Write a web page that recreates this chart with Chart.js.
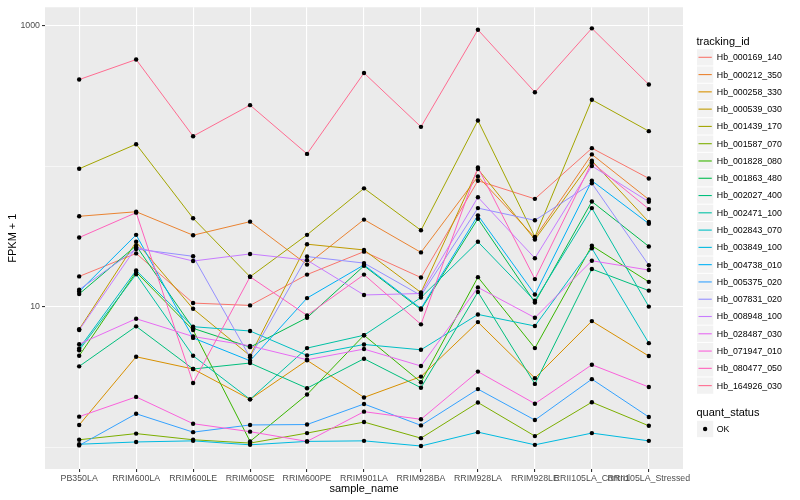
<!DOCTYPE html>
<html>
<head>
<meta charset="utf-8">
<script src="https://cdn.jsdelivr.net/npm/chart.js@4.4.0/dist/chart.umd.min.js"></script>
<style>
  html, body { margin: 0; padding: 0; background: #fff; }
</style>
</head>
<body>
<canvas id="chart" width="800" height="500"></canvas>
<script>
const samples = ['PB350LA', 'RRIM600LA', 'RRIM600LE', 'RRIM600SE', 'RRIM600PE', 'RRIM901LA',
    'RRIM928BA', 'RRIM928LA', 'RRIM928LE', 'RRII105LA_Control', 'RRII105LA_Stressed'];

const trackingIds = ['Hb_000169_140', 'Hb_000212_350', 'Hb_000258_330', 'Hb_000539_030', 'Hb_001439_170',
    'Hb_001587_070', 'Hb_001828_080', 'Hb_001863_480', 'Hb_002027_400', 'Hb_002471_100',
    'Hb_002843_070', 'Hb_003849_100', 'Hb_004738_010', 'Hb_005375_020', 'Hb_007831_020',
    'Hb_008948_100', 'Hb_028487_030', 'Hb_071947_010', 'Hb_080477_050', 'Hb_164926_030'];

const lineColors = ['#F8766D', '#EA8331', '#D89000', '#C09B00', '#A3A500', '#7CAE00', '#39B600', '#00BB4E',
    '#00BF7D', '#00C1A3', '#00BFC4', '#00BAE0', '#00B0F6', '#35A2FF', '#9590FF', '#C77CFF',
    '#E76BF3', '#FA62DB', '#FF62BC', '#FF6C91'];

// FPKM + 1 per sample
const hb_000169_140 = [16.4, 23.9, 10.6, 10.2, 16.9, 24.6, 16.1, 78.6, 58.4, 134, 81.6];
const hb_000212_350 = [43.9, 47.3, 32.2, 40.2, 19.9, 41.6, 24.3, 84.3, 31.0, 121, 57.8];
const hb_000258_330 = [1.44, 4.40, 3.60, 2.19, 4.15, 2.26, 3.18, 7.76, 3.10, 7.89, 4.45];
const hb_000539_030 = [6.90, 28.9, 9.65, 4.47, 27.8, 25.3, 12.6, 95.1, 30.0, 109, 40.0];
const hb_001439_170 = [95.6, 143, 42.5, 16.3, 32.4, 69.4, 34.9, 211, 31.3, 296, 177];
const hb_001587_070 = [1.13, 1.25, 1.13, 1.07, 1.26, 1.51, 1.16, 2.08, 1.20, 2.09, 1.42];
const hb_001828_080 = [4.47, 17.6, 6.82, 1.10, 2.37, 6.26, 2.90, 16.2, 5.07, 27.1, 15.0];
const hb_001863_480 = [12.3, 27.1, 7.01, 5.15, 8.34, 19.5, 9.54, 42.2, 10.7, 55.9, 26.8];
const hb_002027_400 = [3.76, 7.24, 3.60, 3.97, 2.63, 4.26, 2.65, 12.7, 2.82, 18.5, 13.0];
const hb_002471_100 = [4.90, 17.0, 4.47, 2.19, 5.07, 6.26, 11.6, 28.9, 11.0, 50.2, 10.0];
const hb_002843_070 = [5.04, 18.1, 7.20, 6.71, 4.50, 5.38, 4.93, 8.80, 7.28, 26.0, 5.50];
const hb_003849_100 = [1.05, 1.09, 1.11, 1.04, 1.10, 1.11, 1.02, 1.28, 1.04, 1.26, 1.11];
const hb_004738_010 = [12.8, 32.4, 5.99, 4.12, 11.5, 19.8, 9.70, 44.6, 12.2, 78.6, 38.9];
const hb_005375_020 = [1.03, 1.73, 1.28, 1.44, 1.45, 2.03, 1.43, 2.59, 1.56, 3.05, 1.64];
const hb_007831_020 = [13.2, 25.7, 22.8, 4.36, 22.7, 20.4, 12.0, 50.2, 41.1, 75.3, 19.7];
const hb_008948_100 = [6.82, 26.4, 21.1, 23.7, 21.4, 12.1, 12.4, 60.0, 22.1, 100, 55.7];
const hb_028487_030 = [5.41, 8.20, 6.13, 5.26, 4.19, 4.99, 3.78, 13.7, 8.34, 21.2, 18.2];
const hb_071947_010 = [1.65, 2.28, 1.47, 1.29, 1.10, 1.79, 1.58, 3.45, 2.04, 3.86, 2.68];
const hb_080477_050 = [31.0, 46.6, 2.86, 16.3, 8.66, 16.9, 7.48, 97.6, 15.7, 106, 49.4];
const hb_164926_030 = [412, 572, 163, 271, 122, 459, 190, 931, 335, 953, 380];

const seriesValues = [hb_000169_140, hb_000212_350, hb_000258_330, hb_000539_030, hb_001439_170,
    hb_001587_070, hb_001828_080, hb_001863_480, hb_002027_400, hb_002471_100,
    hb_002843_070, hb_003849_100, hb_004738_010, hb_005375_020, hb_007831_020,
    hb_008948_100, hb_028487_030, hb_071947_010, hb_080477_050, hb_164926_030];

const yBreaks = [1, 10, 100, 1000];
const yLabelled = [10, 1000];

const FONT = '"Liberation Sans", Arial, Helvetica, sans-serif';
Chart.defaults.font.family = FONT;

// grey panel like ggplot
const panelBg = {
    id: 'panelBg',
    beforeDraw(chart) {
        const { ctx, chartArea: a } = chart;
        ctx.save();
        ctx.fillStyle = '#fff';
        ctx.fillRect(0, 0, chart.width, chart.height);
        ctx.fillStyle = '#EBEBEB';
        ctx.fillRect(a.left, a.top, a.right - a.left, a.bottom - a.top);
        ctx.restore();
    }
};

// ggplot-style legends on the right
const ggLegend = {
    id: 'ggLegend',
    afterDraw(chart) {
        const ctx = chart.ctx;
        const x0 = 696.5, key = 17.28;
        ctx.save();
        ctx.textAlign = 'left';
        ctx.textBaseline = 'alphabetic';
        ctx.fillStyle = '#000';
        ctx.font = '11px ' + FONT;
        ctx.fillText('tracking_id', x0, 44.5);

        ctx.font = '8.8px ' + FONT;
        ctx.textBaseline = 'middle';
        trackingIds.forEach((id, i) => {
            const cy = 57.3 + i * key;
            ctx.fillStyle = '#F2F2F2';
            ctx.fillRect(x0 + 0.5, cy - key / 2 + 0.5, key - 1, key - 1);
            ctx.strokeStyle = lineColors[i];
            ctx.lineWidth = 1.1;
            ctx.beginPath();
            ctx.moveTo(x0 + 2, cy);
            ctx.lineTo(x0 + key - 2, cy);
            ctx.stroke();
            ctx.fillStyle = '#000';
            ctx.fillText(id, x0 + key + 3, cy + 0.5);
        });

        ctx.textBaseline = 'alphabetic';
        ctx.font = '11px ' + FONT;
        ctx.fillText('quant_status', x0, 416);
        const cy = 429;
        ctx.fillStyle = '#F2F2F2';
        ctx.fillRect(x0 + 0.5, cy - key / 2 + 0.5, key - 1, key - 1);
        ctx.fillStyle = '#000';
        ctx.beginPath();
        ctx.arc(x0 + key / 2, cy, 2.2, 0, Math.PI * 2);
        ctx.fill();
        ctx.font = '8.8px ' + FONT;
        ctx.textBaseline = 'middle';
        ctx.fillText('OK', x0 + key + 3, cy + 0.5);
        ctx.restore();
    }
};

const datasets = seriesValues.map((vals, i) => ({
    label: trackingIds[i],
    data: vals.map((v, j) => ({ x: j, y: v })),
    borderColor: lineColors[i],
    borderWidth: 1,
    pointRadius: 0,
    fill: false,
    tension: 0,
    order: seriesValues.length - i
}));

datasets.push({
    label: 'OK',
    data: seriesValues.flatMap(vals => vals.map((v, j) => ({ x: j, y: v }))),
    showLine: false,
    pointRadius: 2.2,
    pointBackgroundColor: '#000',
    pointBorderWidth: 0,
    order: -1
});

new Chart(document.getElementById('chart'), {
    type: 'line',
    data: { datasets },
    plugins: [panelBg, ggLegend],
    options: {
        responsive: false,
        animation: false,
        layout: { padding: { top: 5, right: 117, left: 0, bottom: 0 } },
        plugins: {
            legend: { display: false },
            tooltip: { enabled: false }
        },
        scales: {
            x: {
                type: 'linear',
                min: -0.6,
                max: samples.length - 1 + 0.6,
                afterBuildTicks: (scale) => { scale.ticks = samples.map((s, i) => ({ value: i })); },
                afterFit: (scale) => { scale.height = 31; },
                border: { display: false },
                grid: { color: '#FFFFFF', lineWidth: 1.1, tickLength: 3, tickColor: '#333333' },
                ticks: {
                    autoSkip: false, maxRotation: 0, minRotation: 0, padding: 1,
                    color: '#4D4D4D', font: { size: 8.8 },
                    callback: (v) => samples[v]
                },
                title: { display: true, text: 'sample_name', color: '#000', font: { size: 11 }, padding: { top: 0, bottom: 4 } }
            },
            y: {
                type: 'logarithmic',
                min: 0.723,
                max: 1346,
                afterBuildTicks: (scale) => { scale.ticks = yBreaks.map(v => ({ value: v })); },
                afterFit: (scale) => { scale.width = 45; },
                border: { display: false },
                grid: {
                    color: '#FFFFFF',
                    lineWidth: (c) => yLabelled.includes(c.tick && c.tick.value) ? 1.1 : 0.55,
                    tickLength: 3,
                    tickColor: (c) => yLabelled.includes(c.tick && c.tick.value) ? '#333333' : 'rgba(0,0,0,0)'
                },
                ticks: {
                    padding: 2, color: '#4D4D4D', font: { size: 8.8 },
                    callback: (v) => yLabelled.includes(v) ? String(v) : ''
                },
                title: { display: true, text: 'FPKM + 1', color: '#000', font: { size: 11 }, padding: { top: 6, bottom: 0 } }
            }
        }
    }
});
</script>
</body>
</html>
